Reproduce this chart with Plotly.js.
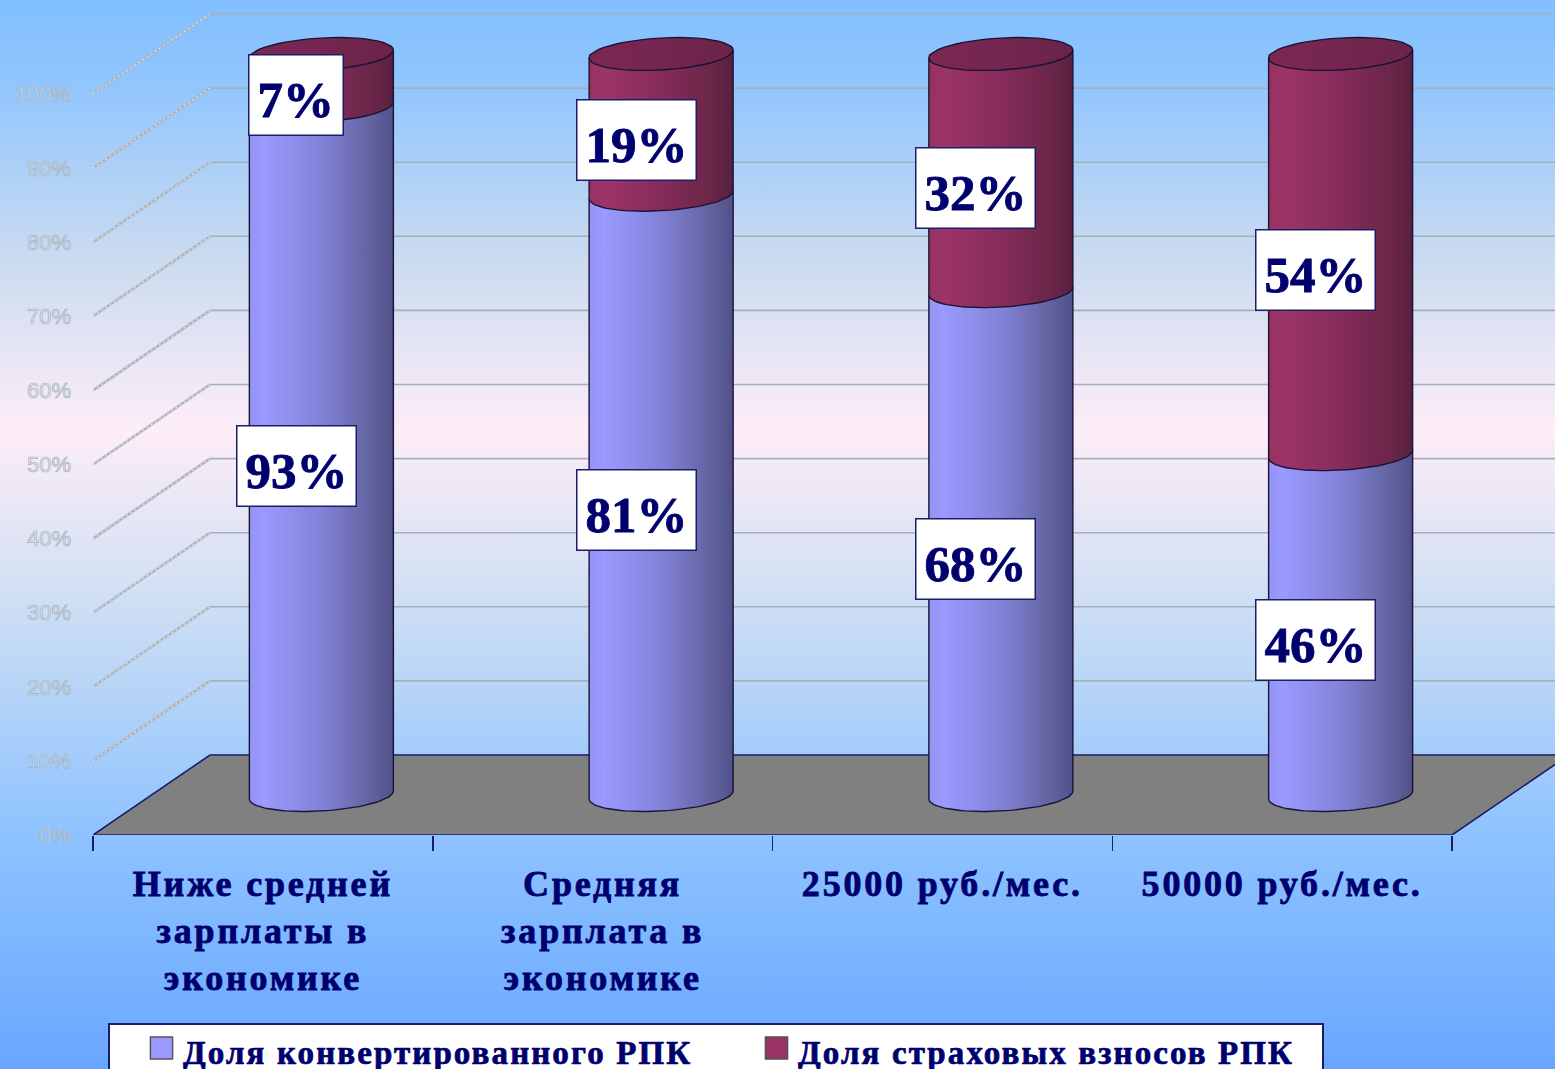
<!DOCTYPE html>
<html><head><meta charset="utf-8">
<script src="https://cdn.plot.ly/plotly-3.0.1.min.js"></script>
<style>
html,body{margin:0;padding:0;width:1555px;height:1069px;overflow:hidden;
background:linear-gradient(180deg,#80bfff 0,#93c6fd 90px,#cbdbf0 260px,#fdedf8 430px,#cfdff3 600px,#8ec3ff 835px,#69a7ff 1069px);}
#chart{width:1555px;height:1069px;}
</style></head><body><div id="chart"></div>
<script>
const categories = ['Ниже средней<br>зарплаты в<br>экономике','Средняя<br>зарплата в<br>экономике','25000 руб./мес.','50000 руб./мес.'];
const convertedShare = [93,81,68,46];
const premiumShare = [7,19,32,54];
const seriesNames = ['Доля конвертированного РПК','Доля страховых взносов РПК'];
const yTickValues = [0,10,20,30,40,50,60,70,80,90,100];
const yTickLabels = ['0%','10%','20%','30%','40%','50%','60%','70%','80%','90%','100%'];

// page geometry: 0 on the value axis sits at y=835, 100 at y=94; 4 categories span x=93..1452
const L=93,R=1452,T=94,B=835,W=1555,H=1069;
const pxX=(R-L)/4, pxY=(B-T)/100;
const xMax=(W-L)/pxX, yMax=B/pxY;
const depthX=117/pxX, depthY=80/pxY;            // depth of the 3D box
const cylX=depthX/2, cylY=depthY/2;             // cylinders stand mid-depth
const rx=72/pxX, ry=16/pxY, tilt=4/pxY, seam=1/pxY;
const barW=2*rx;
const navy='#1c1c6a', textNavy='#00006e';

function arc(cx,cy,a0,a1){const xs=[],ys=[];const n=48;
  for(let k=0;k<=n;k++){const t=a0+(a1-a0)*k/n;
    xs.push(cx+rx*Math.cos(t)); ys.push(cy+ry*Math.sin(t)+tilt*Math.cos(t));}
  return [xs,ys];}
const centers=categories.map((_,i)=>i+0.5+cylX);

const traces=[
 {type:'bar',name:seriesNames[0],x:centers,y:convertedShare,base:convertedShare.map(()=>cylY+tilt),width:barW,
  marker:{color:'#9999ff',line:{width:0}},cliponaxis:false},
 {type:'bar',name:seriesNames[1],x:centers,y:premiumShare.map(v=>v-tilt),base:convertedShare.map(v=>v+cylY+tilt),width:barW,
  marker:{color:'#993366',line:{width:0}},cliponaxis:false}
];
const fillGrad=[];
function addFill(xs,ys,color,grad){
  traces.push({type:'scatter',mode:'lines',x:xs,y:ys,fill:'toself',fillcolor:color,line:{width:0},
    showlegend:false,cliponaxis:false,hoverinfo:'skip'});
  fillGrad.push(grad);
}
const ox=[],oy=[];
function pushOut(xs,ys){xs.forEach((v,k)=>{ox.push(v);oy.push(ys[k]);});ox.push(null);oy.push(null);}
centers.forEach((c,i)=>{
  const v0=cylY, v1=cylY+convertedShare[i], v2=v1+premiumShare[i];
  // purple lower end
  let a=arc(c,v0,Math.PI,2*Math.PI);
  addFill([c-rx].concat(a[0],[c+rx]),[v0+tilt+seam].concat(a[1],[v0+tilt+seam]),'#8888dd','gBlue');
  pushOut(a[0],a[1]);
  // maroon lower end drooping over the purple part
  a=arc(c,v1,Math.PI,2*Math.PI);
  addFill([c-rx].concat(a[0],[c+rx]),[v1+tilt+seam].concat(a[1],[v1+tilt+seam]),'#7a2a55','gRed');
  pushOut(a[0],a[1]);
  // wedge closing the maroon body under the tilted cap
  addFill([c-rx,c+rx,c+rx,c-rx],[v2-tilt,v2+tilt,v2-tilt-seam,v2-tilt-seam],'#7a2a55','gRed');
  // top cap
  a=arc(c,v2,0,2*Math.PI);
  addFill(a[0],a[1],'#702448','gCap');
  pushOut(a[0],a[1]);
  pushOut([c-rx,c-rx],[v0-tilt,v2-tilt]);
  pushOut([c+rx,c+rx],[v0+tilt,v2+tilt]);
});
traces.push({type:'scatter',mode:'lines',x:ox,y:oy,line:{color:'#1a1238',width:1.4},connectgaps:false,
  showlegend:false,cliponaxis:false,hoverinfo:'skip'});

const shapes=[];
yTickValues.forEach(v=>{
  shapes.push({type:'line',xref:'x',yref:'y',layer:'below',x0:depthX,x1:xMax,y0:v+depthY,y1:v+depthY,line:{color:'#a4b0bc',width:1.6}});
  if(v>0){
    shapes.push({type:'line',xref:'x',yref:'y',layer:'below',x0:0,x1:depthX,y0:v,y1:v+depthY,line:{color:'#aeb4ba',width:2.6}});
    shapes.push({type:'line',xref:'x',yref:'y',layer:'below',x0:0,x1:depthX,y0:v,y1:v+depthY,line:{color:'#f4f6f8',width:1,dash:'2px,3px'}});
  }
});
const floorPath=`M0,0L${depthX},${depthY}L${4+depthX},${depthY}L4,0Z`;
shapes.push({type:'path',xref:'x',yref:'y',layer:'below',path:floorPath,fillcolor:'#808080',line:{color:navy,width:1.6}});

const annotations=[];
const labelDX=-25/pxX, labelDY=24.5/pxY;
centers.forEach((c,i)=>{
  const add=(mid,val)=>annotations.push({x:c+labelDX,y:mid+labelDY,xref:'x',yref:'y',showarrow:false,
    text:val+'%',font:{family:'Liberation Serif',size:51,color:textNavy,weight:700},bgcolor:'#ffffff',
    bordercolor:navy,borderwidth:1.5,borderpad:8,height:63,align:'center',valign:'middle'});
  add(convertedShare[i]/2,convertedShare[i]);
  add(convertedShare[i]+premiumShare[i]/2,premiumShare[i]);
});

const layout={
  width:W,height:H,paper_bgcolor:'rgba(0,0,0,0)',plot_bgcolor:'rgba(0,0,0,0)',
  margin:{l:L,r:0,t:0,b:H-B,pad:0,autoexpand:false},
  barmode:'overlay',showlegend:true,
  xaxis:{range:[0,xMax],fixedrange:true,tickmode:'array',tickvals:[0.5,1.5,2.5,3.5],ticktext:categories,
    ticks:'',showgrid:false,zeroline:false,showline:false,ticklabelstandoff:24,
    tickfont:{family:'Liberation Serif',size:36,color:textNavy,weight:700},tickangle:0,
    minor:{tickmode:'array',tickvals:[0,1,2,3,4],ticks:'outside',ticklen:15,tickwidth:1.5,tickcolor:navy,showgrid:false}},
  yaxis:{range:[0,yMax],fixedrange:true,tickmode:'array',tickvals:yTickValues,ticktext:yTickLabels,
    ticks:'',showgrid:false,zeroline:false,showline:false,ticklabelstandoff:21,
    tickfont:{family:'Liberation Sans',size:22,color:'#b4bec8'}},
  legend:{orientation:'h',x:0,xanchor:'left',y:-0.1,yanchor:'top',bgcolor:'#ffffff',
    bordercolor:navy,borderwidth:1.5,font:{family:'Liberation Serif',size:33,color:textNavy,weight:700},
    entrywidth:575,entrywidthmode:'pixels',itemwidth:30,traceorder:'normal',itemclick:false,itemdoubleclick:false},
  shapes,annotations
};

const stops={
  gBlue:[[0,'#9494f4'],[.1,'#9a9aff'],[.5,'#8282d8'],[.85,'#62629f'],[1,'#50508a']],
  gRed:[[0,'#96325f'],[.1,'#9c3468'],[.5,'#862c5a'],[.85,'#6a2648'],[1,'#582040']],
  gCap:[[0,'#7a2850'],[.5,'#742650'],[1,'#6a2446']]
};
Plotly.newPlot('chart',traces,layout,{staticPlot:true,displayModeBar:false}).then(gd=>{
  const NS='http://www.w3.org/2000/svg';
  const svg=gd.querySelector('.main-svg');
  let defs=svg.querySelector('defs');
  Object.keys(stops).forEach(id=>{
    const g=document.createElementNS(NS,'linearGradient');g.setAttribute('id',id);
    g.setAttribute('x1','0');g.setAttribute('x2','1');g.setAttribute('y1','0');g.setAttribute('y2','0');
    stops[id].forEach(s=>{const e=document.createElementNS(NS,'stop');e.setAttribute('offset',s[0]);e.setAttribute('stop-color',s[1]);g.appendChild(e);});
    defs.appendChild(g);
  });
  const bars=gd.querySelectorAll('.barlayer .trace');
  bars.forEach((t,i)=>t.querySelectorAll('.point path').forEach(p=>{p.style.fill='url(#'+(i?'gRed':'gBlue')+')';}));
  const sc=gd.querySelectorAll('.scatterlayer .trace');
  fillGrad.forEach((id,i)=>{const f=sc[i]&&sc[i].querySelector('.js-fill'); if(f) f.style.fill='url(#'+id+')';});
  gd.querySelectorAll('.xtick text').forEach(t=>{t.style.letterSpacing='2.8px';t.style.stroke=textNavy;t.style.strokeWidth='.8px';});
  gd.querySelectorAll('.ytick text').forEach(t=>{t.style.fill='rgba(220,230,242,.55)';t.style.stroke='#a6b0ba';t.style.strokeWidth='.7px';});
  gd.querySelectorAll('.annotation-text').forEach(t=>{t.style.stroke=textNavy;t.style.strokeWidth='.9px';
    t.setAttribute('transform','translate(0,5)');});
  // legend box: placed at the foot of the page, running off its lower edge
  const lg=gd.querySelector('.legend');
  lg.setAttribute('transform','translate(108,1023)');
  const bg=lg.querySelector('.bg');bg.setAttribute('width',1214);bg.setAttribute('height',70);
  const sb=lg.querySelector('.scrollbox');sb.removeAttribute('clip-path');
  lg.querySelectorAll('.traces').forEach((t,i)=>{
    t.setAttribute('transform','translate('+(i*615)+',25)');
    const tx=t.querySelector('.legendtext');
    tx.setAttribute('x',75);tx.setAttribute('y',16);
    tx.style.letterSpacing='2.1px';tx.style.stroke=textNavy;tx.style.strokeWidth='.7px';
    t.querySelectorAll('.layers path').forEach(p=>{
      p.setAttribute('transform','translate(53.5,0) scale(1.85)');p.style.stroke='#555';p.style.strokeWidth='.8px';});
  });
});
</script></body></html>
